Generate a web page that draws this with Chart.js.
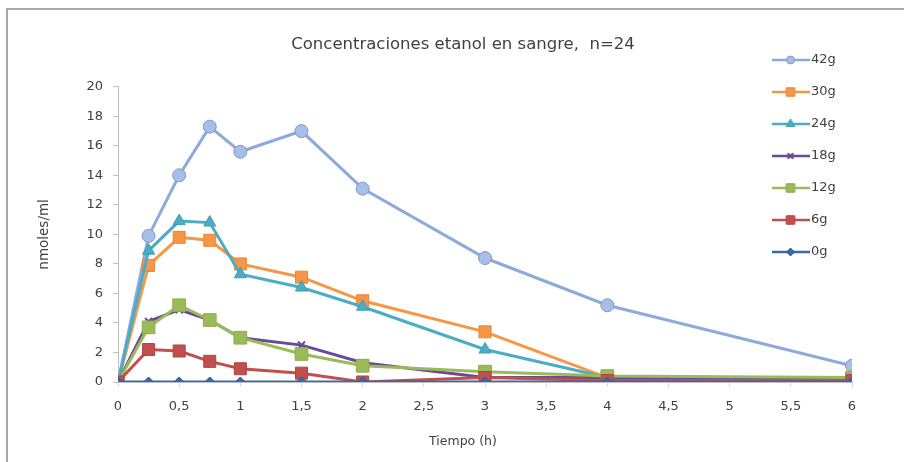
<!DOCTYPE html>
<html>
<head>
<meta charset="utf-8">
<script src="https://cdn.jsdelivr.net/npm/chart.js@4/dist/chart.umd.min.js"></script>
<style>
  html, body { margin: 0; background: #fff; overflow: hidden; }
  #wrap { position: relative; width: 904px; height: 462px; overflow: hidden; }
  #chart { display: block; }
  #frame { position: absolute; left: 6px; top: 8px; width: 920px; height: 480px; border-left: 2px solid #a6a6a6; border-top: 2px solid #a6a6a6; pointer-events: none; }
</style>
</head>
<body>
<div id="wrap">
  <canvas id="chart" width="904" height="462"></canvas>
  <div id="frame"></div>
</div>
<script>
// hours after intake
const times = [0, 0.25, 0.5, 0.75, 1, 1.5, 2, 3, 4, 6];

// nmoles/ml per dose
const g42 = [0, 9.9, 14.0, 17.3, 15.6, 17.0, 13.1, 8.4, 5.2, 1.1];
const g30 = [0, 7.9, 9.8, 9.6, 8.0, 7.1, 5.5, 3.4, 0.3, 0.2];
const g24 = [0, 8.9, 10.9, 10.8, 7.3, 6.4, 5.1, 2.2, 0.3, 0.2];
const g18 = [0, 4.1, 4.9, 4.2, 3.0, 2.5, 1.3, 0.3, 0.3, 0.2];
const g12 = [0, 3.7, 5.2, 4.2, 3.0, 1.9, 1.1, 0.7, 0.4, 0.3];
const g6  = [0, 2.2, 2.1, 1.4, 0.9, 0.6, 0.0, 0.3, 0.1, 0.1];
const g0  = [0, 0, 0, 0, 0, 0, 0, 0, 0, 0];

const seriesNames = ['0g', '6g', '12g', '18g', '24g', '30g', '42g'];
const seriesValues = [g0, g6, g12, g18, g24, g30, g42];

const styles = {
    '42g': { line: '#8EA9DB', fill: '#A7BEE6', border: '#7C98CD', shape: 'circle', r: 6.5, lr: 4 },
    '30g': { line: '#F79646', fill: '#F79646', border: '#E8873A', shape: 'rect', r: 8.5, lr: 6 },
    '24g': { line: '#4BACC6', fill: '#4BACC6', border: '#3F9DB6', shape: 'triangle', r: 7, lr: 5 },
    '18g': { line: '#6A4A96', fill: '#6A4A96', border: '#6A4A96', shape: 'crossRot', r: 5, lr: 4 },
    '12g': { line: '#9BBB59', fill: '#9BBB59', border: '#8DAD4C', shape: 'rect', r: 9, lr: 6 },
    '6g':  { line: '#C0504D', fill: '#C0504D', border: '#B04441', shape: 'rect', r: 8.5, lr: 6 },
    '0g':  { line: '#3A68AE', fill: '#3A68AE', border: '#2F5A9C', shape: 'rectRot', r: 5, lr: 4 }
};

function legendIcon(s) {
    const c = document.createElement('canvas');
    c.width = 38; c.height = 16;
    const ctx = c.getContext('2d');
    ctx.strokeStyle = s.line;
    ctx.lineWidth = 2.5;
    ctx.beginPath(); ctx.moveTo(0, 8); ctx.lineTo(38, 8); ctx.stroke();
    ctx.fillStyle = s.fill;
    ctx.strokeStyle = s.border;
    ctx.lineWidth = s.shape === 'crossRot' ? 2 : 1;
    Chart.helpers.drawPoint(ctx, { pointStyle: s.shape, radius: s.lr, borderWidth: ctx.lineWidth }, 19, 8);
    return c;
}

const datasets = seriesNames.map((name, i) => {
    const s = styles[name];
    return {
        label: name,
        data: times.map((t, j) => ({ x: t, y: seriesValues[i][j] })),
        borderColor: s.line,
        backgroundColor: s.fill,
        borderWidth: 3,
        tension: 0,
        pointStyle: s.shape,
        pointRadius: s.r,
        pointBackgroundColor: s.fill,
        pointBorderColor: s.border,
        pointBorderWidth: s.shape === 'crossRot' ? 2 : 1,
        legendIcon: legendIcon(s)
    };
});

// legend sits inside the plot, top right
const placeLegend = {
    id: 'placeLegend',
    afterLayout(chart) {
        const lg = chart.legend;
        const w = lg.width, h = lg.height;
        lg.left = 757.5; lg.right = 757.5 + w;
        lg.top = 34.5; lg.bottom = 34.5 + h;
    }
};

const font = 'DejaVu Sans';
const tickFont = { family: font, size: 13 };

new Chart(document.getElementById('chart'), {
    type: 'line',
    data: { datasets },
    plugins: [placeLegend],
    options: {
        responsive: false,
        animation: false,
        layout: { padding: { left: 22, right: 0, top: 0, bottom: 0 } },
        plugins: {
            title: {
                display: true,
                text: 'Concentraciones etanol en sangre,  n=24',
                color: '#404040',
                font: { family: font, size: 16.5, weight: 'normal' },
                padding: { top: 35, bottom: 32 }
            },
            subtitle: {
                display: true,
                position: 'bottom',
                text: 'Tiempo (h)',
                color: '#404040',
                font: { family: font, size: 12.5, weight: 'normal' },
                padding: { top: 22, bottom: 13 }
            },
            legend: {
                position: 'chartArea',
                align: 'start',
                reverse: true,
                labels: {
                    usePointStyle: true,
                    pointStyleWidth: 28,
                    padding: 19,
                    color: '#404040',
                    font: tickFont,
                    generateLabels(chart) {
                        return chart.data.datasets.map((ds, i) => ({
                            text: ds.label,
                            pointStyle: ds.legendIcon,
                            fillStyle: ds.borderColor,
                            strokeStyle: ds.borderColor,
                            lineWidth: 0,
                            fontColor: '#404040',
                            datasetIndex: i,
                            hidden: false
                        }));
                    }
                }
            },
            tooltip: { enabled: false }
        },
        scales: {
            x: {
                type: 'linear',
                min: 0,
                max: 6,
                afterFit(scale) { scale.height = 30; },
                ticks: {
                    stepSize: 0.5,
                    color: '#404040',
                    font: tickFont,
                    padding: 12,
                    maxRotation: 0,
                    callback: v => String(v).replace('.', ',')
                },
                grid: { drawOnChartArea: false, drawTicks: true, tickLength: 5, color: '#d9d9d9' },
                border: { display: true, color: '#bfbfbf' }
            },
            y: {
                min: 0,
                max: 20,
                afterFit(scale) { scale.width = 96; },
                ticks: {
                    stepSize: 2,
                    color: '#404040',
                    font: tickFont,
                    padding: 10
                },
                grid: { drawOnChartArea: false, drawTicks: true, tickLength: 5, color: '#bfbfbf' },
                border: { display: true, color: '#bfbfbf' },
                title: {
                    display: true,
                    text: 'nmoles/ml',
                    color: '#404040',
                    font: { family: font, size: 13.5 },
                    padding: { top: 14, bottom: 0 }
                }
            },
            // empty strip on the right so the plot ends where the reference does
            spacer: {
                type: 'linear',
                position: 'right',
                afterFit(scale) { scale.width = 52; },
                ticks: { display: false },
                grid: { display: false },
                border: { display: false }
            }
        }
    }
});
</script>
</body>
</html>
